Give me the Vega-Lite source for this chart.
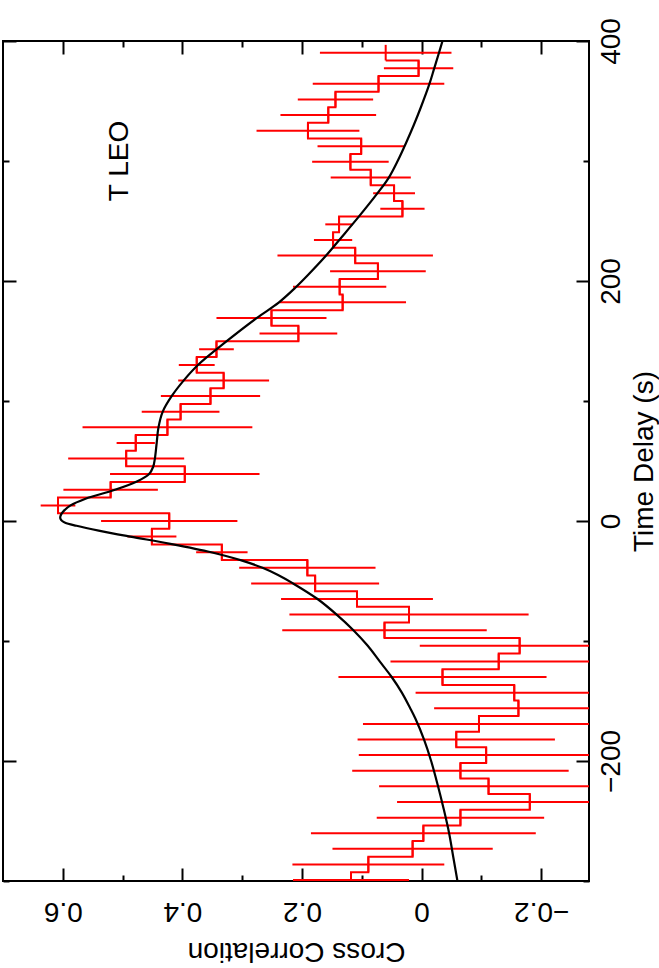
{
  "$schema": "https://vega.github.io/schema/vega-lite/v6.json",
  "width": 586,
  "height": 840,
  "autosize": {"type": "none"},
  "padding": {"left": 3, "top": 41, "right": 70, "bottom": 87},
  "background": "white",
  "config": {
    "view": {"stroke": "black", "strokeWidth": 2},
    "font": "Liberation Sans",
    "axis": {"domain": false, "grid": false, "tickColor": "black", "tickWidth": 2, "labelColor": "black", "titleColor": "black", "labelFontSize": 28, "titleFontSize": 28, "titleFontWeight": "normal", "labelFlush": false, "labelOverlap": false}
  },
  "datasets": {
    "bins": [
      {"t": -299.2, "lo": -305.7, "hi": -292.7, "cc": 0.118, "err": 0.097},
      {"t": -286.2, "lo": -292.7, "hi": -279.7, "cc": 0.089, "err": 0.127},
      {"t": -273.2, "lo": -279.7, "hi": -266.7, "cc": 0.015, "err": 0.134},
      {"t": -260.2, "lo": -266.7, "hi": -253.7, "cc": -0.003, "err": 0.188},
      {"t": -247.2, "lo": -253.7, "hi": -240.6, "cc": -0.065, "err": 0.14},
      {"t": -234.1, "lo": -240.6, "hi": -227.6, "cc": -0.181, "err": 0.222},
      {"t": -221.1, "lo": -227.6, "hi": -214.6, "cc": -0.112, "err": 0.183},
      {"t": -208.1, "lo": -214.6, "hi": -201.6, "cc": -0.065, "err": 0.181},
      {"t": -195.1, "lo": -201.6, "hi": -188.6, "cc": -0.108, "err": 0.213},
      {"t": -182.1, "lo": -188.6, "hi": -175.6, "cc": -0.058, "err": 0.165},
      {"t": -169.1, "lo": -175.6, "hi": -162.6, "cc": -0.096, "err": 0.194},
      {"t": -156.1, "lo": -162.6, "hi": -149.6, "cc": -0.162, "err": 0.141},
      {"t": -143.1, "lo": -149.6, "hi": -136.6, "cc": -0.155, "err": 0.165},
      {"t": -130.1, "lo": -136.6, "hi": -123.6, "cc": -0.035, "err": 0.174},
      {"t": -117.1, "lo": -123.6, "hi": -110.5, "cc": -0.129, "err": 0.181},
      {"t": -104.0, "lo": -110.5, "hi": -97.5, "cc": -0.164, "err": 0.167},
      {"t": -91.0, "lo": -97.5, "hi": -84.5, "cc": 0.062, "err": 0.171},
      {"t": -78.0, "lo": -84.5, "hi": -71.5, "cc": 0.021, "err": 0.2},
      {"t": -65.0, "lo": -71.5, "hi": -58.5, "cc": 0.108, "err": 0.127},
      {"t": -52.0, "lo": -58.5, "hi": -45.5, "cc": 0.178, "err": 0.107},
      {"t": -39.0, "lo": -45.5, "hi": -32.5, "cc": 0.191, "err": 0.114},
      {"t": -26.0, "lo": -32.5, "hi": -19.5, "cc": 0.334, "err": 0.043},
      {"t": -13.0, "lo": -19.5, "hi": -6.5, "cc": 0.451, "err": 0.041},
      {"t": 0.0, "lo": -6.5, "hi": 6.5, "cc": 0.422, "err": 0.114},
      {"t": 13.0, "lo": 6.5, "hi": 19.5, "cc": 0.608, "err": 0.029},
      {"t": 26.0, "lo": 19.5, "hi": 32.6, "cc": 0.52, "err": 0.079},
      {"t": 39.1, "lo": 32.6, "hi": 45.6, "cc": 0.396, "err": 0.125},
      {"t": 52.1, "lo": 45.6, "hi": 58.6, "cc": 0.494, "err": 0.097},
      {"t": 65.1, "lo": 58.6, "hi": 71.6, "cc": 0.478, "err": 0.032},
      {"t": 78.1, "lo": 71.6, "hi": 84.6, "cc": 0.425, "err": 0.142},
      {"t": 91.1, "lo": 84.6, "hi": 97.6, "cc": 0.403, "err": 0.065},
      {"t": 104.1, "lo": 97.6, "hi": 110.6, "cc": 0.353, "err": 0.083},
      {"t": 117.1, "lo": 110.6, "hi": 123.6, "cc": 0.331, "err": 0.076},
      {"t": 130.1, "lo": 123.6, "hi": 136.6, "cc": 0.376, "err": 0.03},
      {"t": 143.1, "lo": 136.6, "hi": 149.7, "cc": 0.343, "err": 0.029},
      {"t": 156.2, "lo": 149.7, "hi": 162.7, "cc": 0.206, "err": 0.065},
      {"t": 169.2, "lo": 162.7, "hi": 175.7, "cc": 0.251, "err": 0.092},
      {"t": 182.2, "lo": 175.7, "hi": 188.7, "cc": 0.132, "err": 0.106},
      {"t": 195.2, "lo": 188.7, "hi": 201.7, "cc": 0.137, "err": 0.078},
      {"t": 208.2, "lo": 201.7, "hi": 214.7, "cc": 0.073, "err": 0.08},
      {"t": 221.2, "lo": 214.7, "hi": 227.7, "cc": 0.111, "err": 0.13},
      {"t": 234.2, "lo": 227.7, "hi": 240.7, "cc": 0.148, "err": 0.032},
      {"t": 247.2, "lo": 240.7, "hi": 253.7, "cc": 0.138, "err": 0.023},
      {"t": 260.2, "lo": 253.7, "hi": 266.7, "cc": 0.032, "err": 0.037},
      {"t": 273.2, "lo": 266.7, "hi": 279.8, "cc": 0.046, "err": 0.035},
      {"t": 286.3, "lo": 279.8, "hi": 292.8, "cc": 0.085, "err": 0.067},
      {"t": 299.3, "lo": 292.8, "hi": 305.8, "cc": 0.119, "err": 0.064},
      {"t": 312.3, "lo": 305.8, "hi": 318.8, "cc": 0.101, "err": 0.073},
      {"t": 325.3, "lo": 318.8, "hi": 331.8, "cc": 0.19, "err": 0.086},
      {"t": 338.3, "lo": 331.8, "hi": 344.8, "cc": 0.156, "err": 0.08},
      {"t": 351.3, "lo": 344.8, "hi": 357.8, "cc": 0.144, "err": 0.063},
      {"t": 364.3, "lo": 357.8, "hi": 370.8, "cc": 0.072, "err": 0.11},
      {"t": 377.3, "lo": 370.8, "hi": 383.8, "cc": 0.005, "err": 0.058},
      {"t": 390.3, "lo": 383.8, "hi": 396.8, "cc": 0.06, "err": 0.11}
    ],
    "model": [
      {"t": -300, "cc": -0.06}, {"t": -280, "cc": -0.053}, {"t": -260, "cc": -0.046},
      {"t": -240, "cc": -0.037}, {"t": -220, "cc": -0.027}, {"t": -200, "cc": -0.016},
      {"t": -182, "cc": -0.004}, {"t": -165, "cc": 0.01}, {"t": -156, "cc": 0.019},
      {"t": -143, "cc": 0.033}, {"t": -130, "cc": 0.05}, {"t": -117, "cc": 0.07},
      {"t": -104, "cc": 0.09}, {"t": -91, "cc": 0.114}, {"t": -78, "cc": 0.142},
      {"t": -65, "cc": 0.174}, {"t": -52, "cc": 0.215}, {"t": -45, "cc": 0.24},
      {"t": -39, "cc": 0.266}, {"t": -33, "cc": 0.3}, {"t": -26, "cc": 0.352},
      {"t": -19, "cc": 0.42}, {"t": -13, "cc": 0.487}, {"t": -8, "cc": 0.54},
      {"t": -4, "cc": 0.577}, {"t": -1.5, "cc": 0.596}, {"t": 0, "cc": 0.601},
      {"t": 2, "cc": 0.604}, {"t": 4, "cc": 0.604}, {"t": 7.5, "cc": 0.6},
      {"t": 13, "cc": 0.587}, {"t": 18.6, "cc": 0.562}, {"t": 25.8, "cc": 0.514},
      {"t": 32.5, "cc": 0.478}, {"t": 38.9, "cc": 0.456}, {"t": 45, "cc": 0.449},
      {"t": 52, "cc": 0.446}, {"t": 65, "cc": 0.443}, {"t": 78, "cc": 0.44},
      {"t": 91, "cc": 0.433}, {"t": 104, "cc": 0.418}, {"t": 117, "cc": 0.398},
      {"t": 130, "cc": 0.374}, {"t": 149, "cc": 0.328}, {"t": 169, "cc": 0.276},
      {"t": 182, "cc": 0.239}, {"t": 194, "cc": 0.212}, {"t": 205, "cc": 0.19},
      {"t": 221, "cc": 0.16}, {"t": 234, "cc": 0.138}, {"t": 253, "cc": 0.106},
      {"t": 273, "cc": 0.074}, {"t": 286, "cc": 0.055}, {"t": 300, "cc": 0.04},
      {"t": 315, "cc": 0.026}, {"t": 330, "cc": 0.013}, {"t": 345, "cc": 0.001},
      {"t": 364, "cc": -0.013}, {"t": 377, "cc": -0.021}, {"t": 390, "cc": -0.029},
      {"t": 400, "cc": -0.035}
    ],
    "note": [{"t": 300, "cc": 0.504, "label": "T LEO"}]
  },
  "resolve": {"axis": {"x": "independent", "y": "independent"}},
  "layer": [
    {
      "data": {"name": "bins"},
      "mark": {"type": "line", "color": "red", "strokeWidth": 2, "interpolate": "step-before", "clip": true},
      "encoding": {
        "x": {"field": "cc", "type": "quantitative", "scale": {"domain": [-0.28, 0.7], "reverse": true, "nice": false, "zero": false},
          "axis": {"orient": "bottom", "values": [-0.2, -0.1, 0, 0.1, 0.2, 0.3, 0.4, 0.5, 0.6], "format": "~g",
            "labelExpr": "round(datum.value*10) % 2 === 0 ? datum.label : ''",
            "labelAngle": 180, "labelAlign": "center", "labelBaseline": "bottom", "labelPadding": 28,
            "tickSize": {"condition": {"test": "round(datum.value*10) % 2 === 0", "value": -13}, "value": -6},
            "title": "Cross Correlation", "titleAngle": 180, "titleBaseline": "bottom", "titlePadding": 5}},
        "y": {"field": "lo", "type": "quantitative", "scale": {"domain": [-300, 400], "nice": false, "zero": false},
          "axis": {"orient": "right", "values": [-300, -200, -100, 0, 100, 200, 300, 400],
            "labelExpr": "datum.value % 200 === 0 ? datum.label : ''",
            "labelAngle": 270, "labelAlign": "center", "labelBaseline": "top", "labelPadding": 21,
            "tickSize": {"condition": {"test": "datum.value % 200 === 0", "value": -13}, "value": -6},
            "title": "Time Delay (s)", "titleAngle": 270, "titleBaseline": "top", "titlePadding": -2}},
        "order": {"field": "lo", "type": "quantitative"}
      }
    },
    {
      "data": {"name": "bins"},
      "mark": {"type": "rule", "color": "red", "strokeWidth": 2, "clip": true},
      "encoding": {
        "x": {"field": "cc", "type": "quantitative", "scale": {"domain": [-0.28, 0.7], "reverse": true, "nice": false, "zero": false},
          "axis": {"orient": "top", "values": [-0.2, -0.1, 0, 0.1, 0.2, 0.3, 0.4, 0.5, 0.6], "labels": false, "title": null,
            "tickSize": {"condition": {"test": "round(datum.value*10) % 2 === 0", "value": -13}, "value": -6}}},
        "y": {"field": "lo", "type": "quantitative", "scale": {"domain": [-300, 400], "nice": false, "zero": false},
          "axis": {"orient": "left", "values": [-300, -200, -100, 0, 100, 200, 300, 400], "labels": false, "title": null,
            "tickSize": {"condition": {"test": "datum.value % 200 === 0", "value": -13}, "value": -6}}},
        "y2": {"field": "hi"}
      }
    },
    {
      "data": {"name": "bins"},
      "mark": {"type": "errorbar", "ticks": false, "clip": true, "rule": {"color": "red", "strokeWidth": 2}},
      "encoding": {
        "x": {"field": "cc", "type": "quantitative", "scale": {"domain": [-0.28, 0.7], "reverse": true, "nice": false, "zero": false}, "axis": null},
        "xError": {"field": "err"},
        "y": {"field": "t", "type": "quantitative", "scale": {"domain": [-300, 400], "nice": false, "zero": false}, "axis": null}
      }
    },
    {
      "data": {"name": "model"},
      "mark": {"type": "line", "color": "black", "strokeWidth": 2.2, "interpolate": "catmull-rom", "clip": true},
      "encoding": {
        "x": {"field": "cc", "type": "quantitative", "scale": {"domain": [-0.28, 0.7], "reverse": true, "nice": false, "zero": false}, "axis": null},
        "y": {"field": "t", "type": "quantitative", "scale": {"domain": [-300, 400], "nice": false, "zero": false}, "axis": null},
        "order": {"field": "t", "type": "quantitative"}
      }
    },
    {
      "data": {"name": "note"},
      "mark": {"type": "text", "angle": 270, "fontSize": 28, "align": "center", "baseline": "middle", "color": "black", "font": "Liberation Sans"},
      "encoding": {
        "x": {"field": "cc", "type": "quantitative", "scale": {"domain": [-0.28, 0.7], "reverse": true, "nice": false, "zero": false}, "axis": null},
        "y": {"field": "t", "type": "quantitative", "scale": {"domain": [-300, 400], "nice": false, "zero": false}, "axis": null},
        "text": {"field": "label"}
      }
    }
  ]
}
